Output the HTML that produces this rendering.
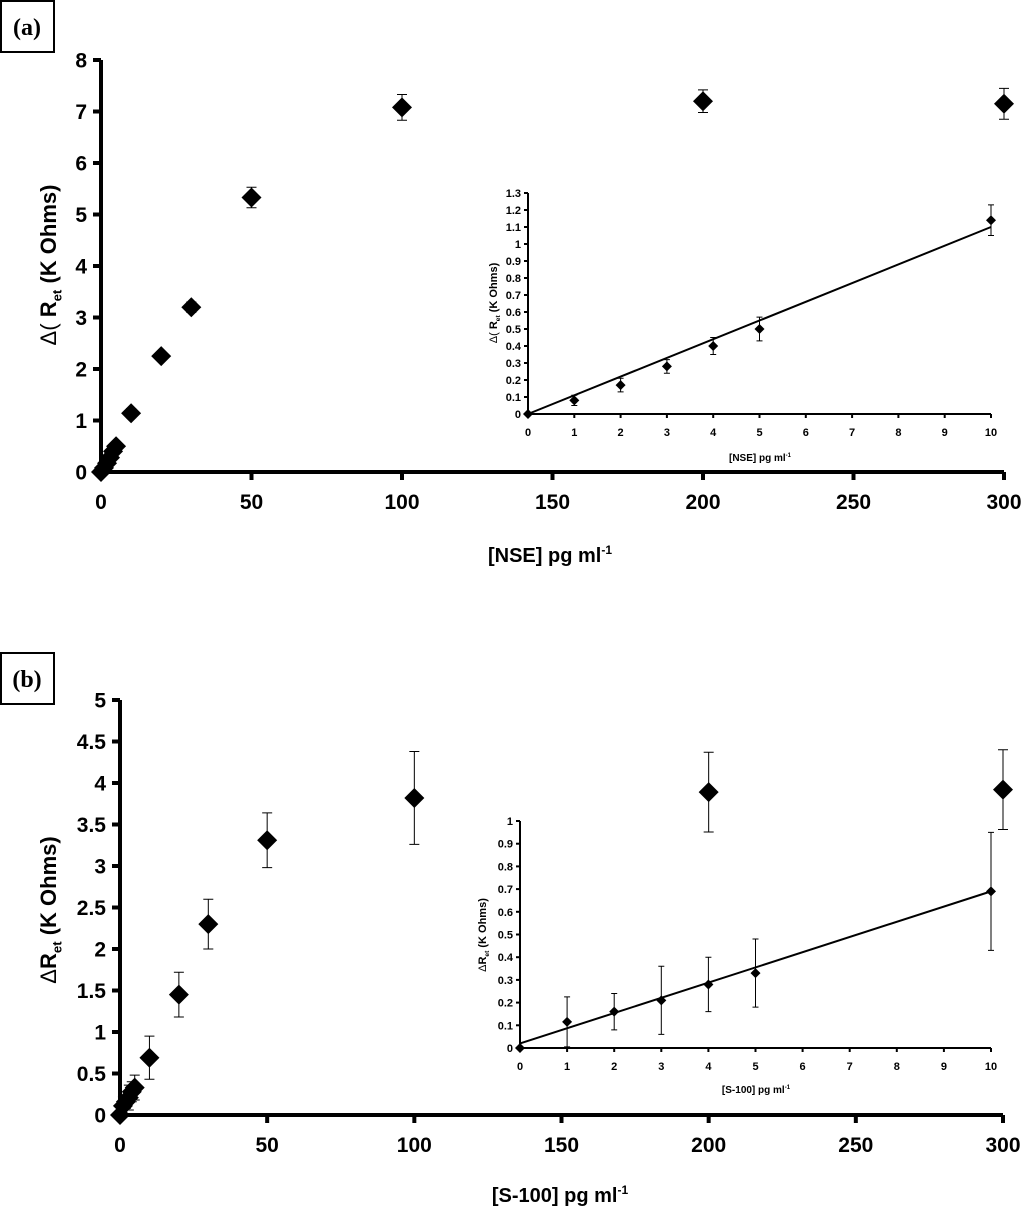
<!DOCTYPE html>
<html><head><meta charset="utf-8"><style>
html,body{margin:0;padding:0;background:#fff;}
svg{display:block;}
text{font-family:"Liberation Sans",Arial,sans-serif;font-weight:bold;fill:#000;}
.serif{font-family:"Liberation Serif",serif;}
</style></head><body>
<svg id="fig" width="1024" height="1206" viewBox="0 0 1024 1206" xmlns="http://www.w3.org/2000/svg">
<rect x="1" y="1" width="53" height="51" fill="#fff" stroke="#000" stroke-width="2"/>
<text class="serif" x="27" y="35" font-size="24" text-anchor="middle">(a)</text>
<rect x="1" y="653" width="53" height="51" fill="#fff" stroke="#000" stroke-width="2"/>
<text class="serif" x="27" y="687" font-size="24" text-anchor="middle">(b)</text>
<g id="layer"></g>
</svg>
<script>
// Panel (a) main
const aX = [0,1,2,3,4,5,10,20,30,50,100,200,300];
const aY = [0,0.08,0.17,0.28,0.40,0.50,1.14,2.25,3.2,5.33,7.08,7.2,7.15];
const aErr = [0,0.03,0.04,0.04,0.05,0.07,0.09,0.08,0.1,0.2,0.25,0.22,0.3];
const aXTicks = [0,50,100,150,200,250,300];
const aYTicks = [0,1,2,3,4,5,6,7,8];
// Panel (a) inset
const aiX = [0,1,2,3,4,5,10];
const aiY = [0,0.08,0.17,0.28,0.40,0.50,1.14];
const aiErr = [0,0.03,0.04,0.04,0.05,0.07,0.09];
const aiFit = [0,1.1];
const aiXTicks = [0,1,2,3,4,5,6,7,8,9,10];
const aiYTicks = [0,0.1,0.2,0.3,0.4,0.5,0.6,0.7,0.8,0.9,1,1.1,1.2,1.3];
// Panel (b) main
const bX = [0,1,2,3,4,5,10,20,30,50,100,200,300];
const bY = [0,0.11,0.16,0.21,0.28,0.33,0.69,1.45,2.3,3.31,3.82,3.89,3.92];
const bErr = [0,0.11,0.08,0.15,0.12,0.15,0.26,0.27,0.3,0.33,0.56,0.48,0.48];
const bXTicks = [0,50,100,150,200,250,300];
const bYTicks = [0,0.5,1,1.5,2,2.5,3,3.5,4,4.5,5];
// Panel (b) inset
const biX = [0,1,2,3,4,5,10];
const biY = [0,0.115,0.16,0.21,0.28,0.33,0.69];
const biErr = [0,0.11,0.08,0.15,0.12,0.15,0.26];
const biFit = [0.02,0.69];
const biXTicks = [0,1,2,3,4,5,6,7,8,9,10];
const biYTicks = [0,0.1,0.2,0.3,0.4,0.5,0.6,0.7,0.8,0.9,1];

const NS="http://www.w3.org/2000/svg";
const layer=document.getElementById('layer');
function mk(tag,attrs,parent){const e=document.createElementNS(NS,tag);for(const k in attrs)e.setAttribute(k,attrs[k]);(parent||layer).appendChild(e);return e;}
function scale(d0,d1,r0,r1){return v=>r0+(v-d0)/(d1-d0)*(r1-r0);}

function drawAxes(g,sx,sy,xt,yt,o){
  const x0=sx(xt[0]),x1=sx(xt[xt.length-1]),y0=sy(yt[0]),y1=sy(yt[yt.length-1]);
  const ya=mk('line',{x1:x0,y1:y0,x2:x0,y2:y1,stroke:'#000','stroke-width':o.w},g);
  
  
  const xa=mk('line',{x1:x0,y1:y0,x2:x1,y2:y0,stroke:'#000','stroke-width':o.w},g);
  
  
  yt.forEach(v=>{
    const y=sy(v);
    const t=mk('line',{x1:x0-o.tk,y1:y,x2:x0,y2:y,stroke:'#000','stroke-width':o.w},g);
    
    
    const l=mk('text',{x:x0-o.tk-o.gap,y:y+o.fs*0.36,'font-size':o.fs,'text-anchor':'end'},g);
    l.textContent=String(v);
    
    
  });
  xt.forEach(v=>{
    const x=sx(v);
    const t=mk('line',{x1:x,y1:y0,x2:x,y2:y0+o.tk,stroke:'#000','stroke-width':o.w},g);
    
    
    const l=mk('text',{x:x,y:y0+o.xl,'font-size':o.fs,'text-anchor':'middle'},g);
    l.textContent=String(v);
    
    
  });
}
function drawPoints(g,sx,sy,xs,ys,es,r,cap){
  xs.forEach((xv,i)=>{
    const x=sx(xv),y=sy(ys[i]);
    if(es[i]>0){
      const eb=mk('path',{d:`M${x},${sy(ys[i]-es[i])}V${sy(ys[i]+es[i])}M${x-cap},${sy(ys[i]+es[i])}h${2*cap}M${x-cap},${sy(ys[i]-es[i])}h${2*cap}`,stroke:'#000','stroke-width':1,fill:'none'},g);
      
      
    }
    const p=mk('path',{d:`M${x},${y-r}L${x+r},${y}L${x},${y+r}L${x-r},${y}Z`,fill:'#000'},g);
    
    
  });
}
function yTitle(g,x,y,fs,pre,suf,name){
  const t=mk('text',{transform:`translate(${x},${y}) rotate(-90)`,'font-size':fs,'text-anchor':'middle'},g);
  
  
  const a=mk('tspan',{'font-weight':'normal'},t);a.textContent=pre;
  const b=mk('tspan',{},t);b.textContent='R';
  const c=mk('tspan',{'font-size':fs*0.6,dy:fs*0.25},t);c.textContent='et';
  const d=mk('tspan',{dy:-fs*0.25},t);d.textContent=suf;
}
function xTitle(g,x,y,fs,txt,name){
  const t=mk('text',{x:x,y:y,'font-size':fs,'text-anchor':'middle'},g);
  
  
  const a=mk('tspan',{},t);a.textContent=txt+' pg ml';
  const b=mk('tspan',{'font-size':fs*0.6,dy:-fs*0.4},t);b.textContent='-1';
}

// Panel a
const ga=mk('g',{});


const sxa=scale(0,300,101,1004), sya=scale(0,8,472,60);
drawAxes(ga,sxa,sya,aXTicks,aYTicks,{w:4,tk:8,gap:6,fs:21,xl:37});
yTitle(ga,56,265,22,'\u0394( ',' (K Ohms)','panel-a-y-axis-title');
xTitle(ga,550,562,20,'[NSE]','panel-a-x-axis-title');
drawPoints(ga,sxa,sya,aX,aY,aErr,10,5);

const gai=mk('g',{});


const sxai=scale(0,10,528,991), syai=scale(0,1.3,414,193);
drawAxes(gai,sxai,syai,aiXTicks,aiYTicks,{w:2,tk:4,gap:3,fs:11,xl:22});
yTitle(gai,497,303,11,'\u0394( ',' (K Ohms)','panel-a-inset-y-axis-title');
xTitle(gai,760,461,10,'[NSE]','panel-a-inset-x-axis-title');
const fa=mk('line',{x1:sxai(0),y1:syai(aiFit[0]),x2:sxai(10),y2:syai(aiFit[1]),stroke:'#000','stroke-width':2},gai);


drawPoints(gai,sxai,syai,aiX,aiY,aiErr,5,3);

// Panel b
const gb=mk('g',{});


const sxb=scale(0,300,120,1003), syb=scale(0,5,1115,700);
drawAxes(gb,sxb,syb,bXTicks,bYTicks,{w:4,tk:8,gap:6,fs:21,xl:37});
yTitle(gb,56,910,22,'\u0394','  (K Ohms)','panel-b-y-axis-title');

const gbi=mk('g',{});


const sxbi=scale(0,10,520,991), sybi=scale(0,1,1048,821);
drawAxes(gbi,sxbi,sybi,biXTicks,biYTicks,{w:2,tk:4,gap:3,fs:11,xl:22});
yTitle(gbi,486,935,11,'\u0394',' (K Ohms)','panel-b-inset-y-axis-title');
xTitle(gbi,756,1093,10,'[S-100]','panel-b-inset-x-axis-title');
const fb=mk('line',{x1:sxbi(0),y1:sybi(biFit[0]),x2:sxbi(10),y2:sybi(biFit[1]),stroke:'#000','stroke-width':2},gbi);


drawPoints(gbi,sxbi,sybi,biX,biY,biErr,5,3);

drawPoints(gb,sxb,syb,bX,bY,bErr,10,5);
xTitle(gb,560,1202,20,'[S-100]','panel-b-x-axis-title');
</script>
</body></html>
